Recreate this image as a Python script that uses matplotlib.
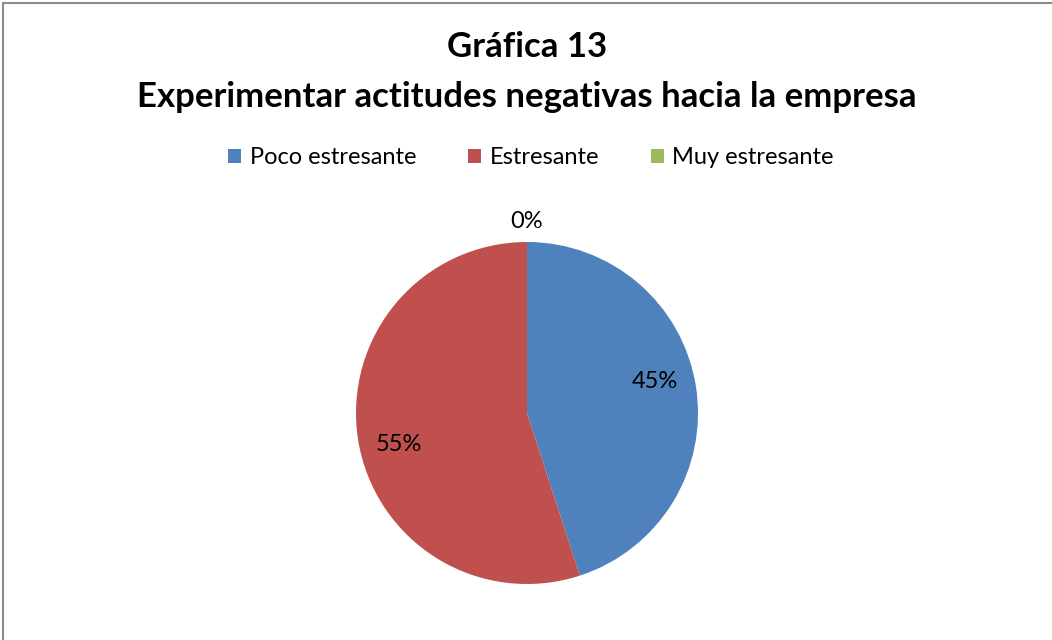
import matplotlib
matplotlib.use("Agg")
import matplotlib.pyplot as plt
import matplotlib.patches as mpatches
import numpy as np

# ── Data ──────────────────────────────────────────────────────────────────────
TITLE_1 = "Gráfica 13"
TITLE_2 = "Experimentar actitudes negativas hacia la empresa"
CATEGORIES = ["Poco estresante", "Estresante", "Muy estresante"]
VALUES = [45, 55, 0]
COLORS = ["#4F81BD", "#C0504D", "#9BBB59"]

FONT = "Lato"
W, H = 1052, 640

fig = plt.figure(figsize=(W / 100, H / 100), dpi=100)
fig.patch.set_facecolor("white")

# chart border (only top/left visible in the crop)
fig.patches.append(mpatches.Rectangle((3 / W, -0.1), 1.2, 1 - 3 / H + 0.1,
                                      transform=fig.transFigure, fill=False,
                                      edgecolor="#8C8C8C", linewidth=1.5))

# ── Pie ───────────────────────────────────────────────────────────────────────
cx, cy, r = 527, 413, 171
ax = fig.add_axes([(cx - r) / W, (H - cy - r) / H, 2 * r / W, 2 * r / H])
wedges, _ = ax.pie(VALUES, colors=COLORS, startangle=90, counterclock=False,
                   radius=1.0, wedgeprops=dict(linewidth=0))
ax.set_xlim(-1, 1)
ax.set_ylim(-1, 1)
ax.set_aspect("equal")
ax.axis("off")

# labels: Excel places them slightly rotated from the wedge middle
total = sum(VALUES)
for w, v in zip(wedges, VALUES):
    if v > 0:
        mid = np.deg2rad((w.theta1 + w.theta2) / 2 + 5)
        d = 0.77
    else:
        mid = np.deg2rad((w.theta1 + w.theta2) / 2)
        d = 1.12
    ax.text(d * np.cos(mid), d * np.sin(mid), f"{v / total * 100:.0f}%",
            ha="center", va="center", fontsize=17, fontname=FONT,
            color="black", clip_on=False)

# ── Title & legend ────────────────────────────────────────────────────────────
fig.text(cx / W, 1 - 47 / H, TITLE_1, ha="center", va="center",
         fontsize=25, fontweight="bold", fontname=FONT, color="black")
fig.text(cx / W, 1 - 97 / H, TITLE_2, ha="center", va="center",
         fontsize=25, fontweight="bold", fontname=FONT, color="black")

fig.legend(wedges, CATEGORIES, loc="center", bbox_to_anchor=(531 / W, 1 - 158 / H),
           ncol=3, frameon=False, prop=dict(family=FONT, size=17),
           handlelength=0.55, handleheight=0.55, handletextpad=0.35,
           columnspacing=2.2, borderpad=0, borderaxespad=0)

fig.savefig("out.png", dpi=100, facecolor="white")
